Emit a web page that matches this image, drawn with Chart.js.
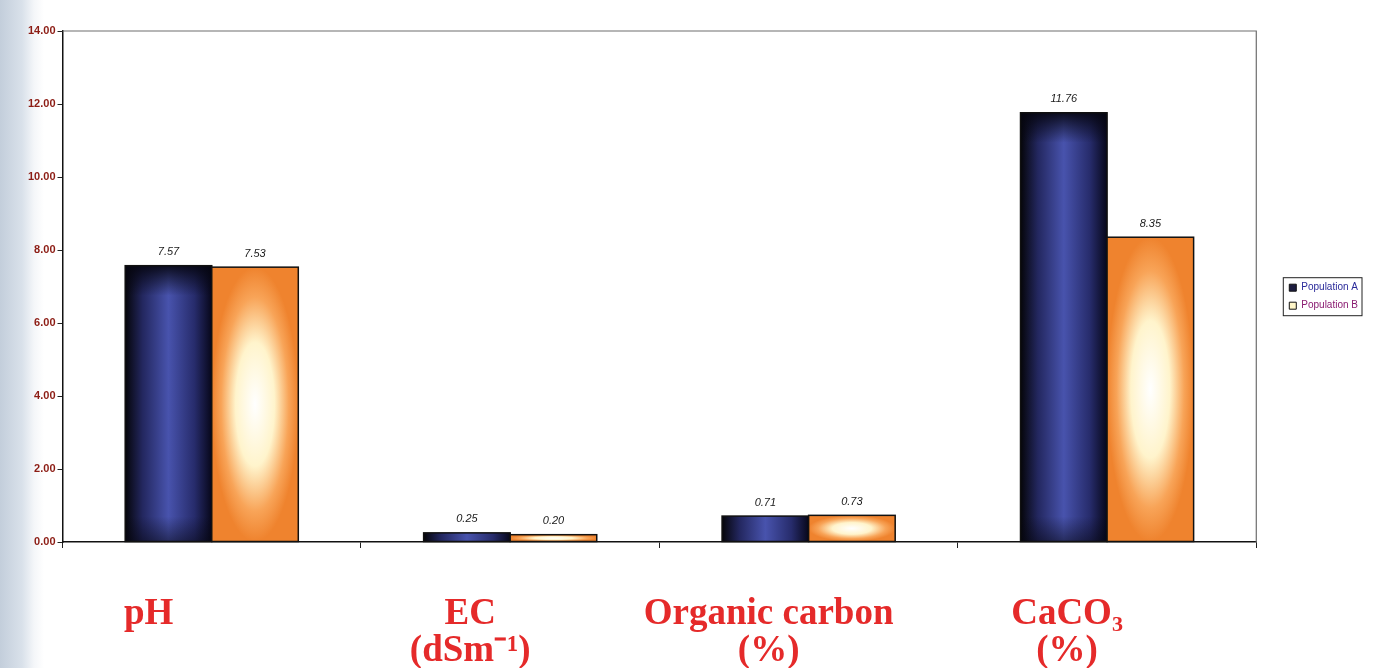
<!DOCTYPE html>
<html>
<head>
<meta charset="utf-8">
<script src="https://cdn.jsdelivr.net/npm/chart.js@4.4.1/dist/chart.umd.min.js"></script>
<style>
  html, body { margin: 0; padding: 0; }
  body {
    width: 1390px; height: 668px; overflow: hidden;
    background: linear-gradient(to right, #c3cedb 0px, #d9e1ea 22px, #f4f6f9 34px, #ffffff 44px);
  }
  #wrap { position: absolute; left: 0; top: 0; width: 1390px; height: 668px; }
</style>
</head>
<body>
<div id="wrap"><canvas id="soil" width="1390" height="668"></canvas></div>
<script>
const categories = ['pH     ', ['EC', '(dSm⁻¹)'], ['Organic carbon', '(%)'], ['CaCO₃', '(%)']];
const populationA = [7.57, 0.25, 0.71, 11.76];
const populationB = [7.53, 0.20, 0.73, 8.35];
const yTicks = [0, 2, 4, 6, 8, 10, 12, 14];

// fills each bar with the shaded look of the scanned figure
const barShading = {
    id: 'barShading',
    afterDatasetsDraw(chart) {
        const ctx = chart.ctx;
        chart.data.datasets.forEach((ds, i) => {
            const meta = chart.getDatasetMeta(i);
            meta.data.forEach(bar => {
                const p = bar.getProps(['x', 'y', 'base', 'width'], true);
                const left = p.x - p.width / 2;
                const top = Math.min(p.y, p.base);
                const h = Math.abs(p.base - p.y);
                ctx.save();
                if (i === 0) {
                    const g = ctx.createLinearGradient(left, 0, left + p.width, 0);
                    g.addColorStop(0, '#050509');
                    g.addColorStop(0.2, '#23275f');
                    g.addColorStop(0.5, '#4853ad');
                    g.addColorStop(0.8, '#272c6c');
                    g.addColorStop(1, '#07071a');
                    ctx.fillStyle = g;
                    ctx.fillRect(left, top, p.width, h);
                    const v = ctx.createLinearGradient(0, top, 0, top + h);
                    v.addColorStop(0, 'rgba(5,5,15,0.9)');
                    v.addColorStop(Math.min(1, 30 / Math.max(h, 1)), 'rgba(5,5,15,0)');
                    v.addColorStop(Math.max(0, 1 - 25 / Math.max(h, 1)), 'rgba(5,5,15,0)');
                    v.addColorStop(1, 'rgba(5,5,15,0.5)');
                    ctx.fillStyle = v;
                    ctx.fillRect(left, top, p.width, h);
                } else {
                    ctx.fillStyle = '#f0842e';
                    ctx.fillRect(left, top, p.width, h);
                    ctx.save();
                    ctx.translate(left + p.width / 2, top + h / 2);
                    ctx.scale(p.width / 2, h / 2);
                    const r = ctx.createRadialGradient(0, 0, 0, 0, 0, 1);
                    r.addColorStop(0, '#ffffff');
                    r.addColorStop(0.45, '#fff4cc');
                    r.addColorStop(0.78, '#f8a458');
                    r.addColorStop(1, '#ef832e');
                    ctx.fillStyle = r;
                    ctx.fillRect(-1, -1, 2, 2);
                    ctx.restore();
                }
                ctx.strokeStyle = '#111';
                ctx.lineWidth = 1.5;
                ctx.strokeRect(left, top, p.width, h);
                ctx.restore();
            });
        });
    }
};

// value labels above the bars
const valueLabels = {
    id: 'valueLabels',
    afterDatasetsDraw(chart) {
        const ctx = chart.ctx;
        ctx.save();
        ctx.font = 'italic 11px "Liberation Sans", Arial, sans-serif';
        ctx.fillStyle = '#1a1a1a';
        ctx.textAlign = 'center';
        ctx.textBaseline = 'bottom';
        chart.data.datasets.forEach((ds, i) => {
            chart.getDatasetMeta(i).data.forEach((bar, j) => {
                const p = bar.getProps(['x', 'y'], true);
                ctx.fillText(ds.data[j].toFixed(2), p.x, p.y - 8);
            });
        });
        ctx.restore();
    }
};

// top and right frame of the plot and a box around the legend
const frame = {
    id: 'frame',
    beforeDatasetsDraw(chart) {
        const a = chart.chartArea;
        const ctx = chart.ctx;
        ctx.save();
        ctx.strokeStyle = '#6e6e6e';
        ctx.lineWidth = 1.2;
        ctx.beginPath();
        ctx.moveTo(a.left, a.top);
        ctx.lineTo(a.right, a.top);
        ctx.lineTo(a.right, a.bottom);
        ctx.stroke();
        ctx.restore();
    },
    afterDraw(chart) {
        const lg = chart.legend;
        if (!lg || !lg.legendHitBoxes.length) return;
        const boxes = lg.legendHitBoxes;
        const x0 = Math.min(...boxes.map(b => b.left)) - 6;
        const x1 = Math.max(...boxes.map(b => b.left + b.width)) + 4;
        const y0 = boxes[0].top - 5;
        const y1 = boxes[boxes.length - 1].top + boxes[boxes.length - 1].height + 5;
        const ctx = chart.ctx;
        ctx.save();
        ctx.strokeStyle = '#222';
        ctx.lineWidth = 1;
        ctx.strokeRect(x0, y0, x1 - x0, y1 - y0);
        ctx.restore();
    }
};

const ctx = document.getElementById('soil').getContext('2d');
new Chart(ctx, {
    type: 'bar',
    data: {
        labels: categories,
        datasets: [
            { label: 'Population A', data: populationA, backgroundColor: '#2b3280', borderWidth: 0, barPercentage: 1, categoryPercentage: 0.58 },
            { label: 'Population B', data: populationB, backgroundColor: '#f08a34', borderWidth: 0, barPercentage: 1, categoryPercentage: 0.58 }
        ]
    },
    options: {
        responsive: false,
        animation: false,
        layout: { padding: { left: 26, top: 31, right: 22, bottom: 0 } },
        scales: {
            x: {
                afterFit(scale) { scale.height = 126; },
                grid: { display: true, drawOnChartArea: false, drawTicks: true, tickLength: 6, color: '#222' },
                border: { display: true, color: '#111', width: 1.5 },
                ticks: {
                    color: '#e52a2a',
                    font: { family: '"Liberation Serif", "Times New Roman", serif', size: 37, weight: 'bold', lineHeight: 1.0 },
                    padding: 48,
                    labelOffset: -40,
                    maxRotation: 0,
                    autoSkip: false
                }
            },
            y: {
                min: 0,
                max: 14,
                afterBuildTicks(axis) { axis.ticks = yTicks.map(v => ({ value: v })); },
                grid: { display: true, drawOnChartArea: false, drawTicks: true, tickLength: 5, color: '#222' },
                border: { display: true, color: '#111', width: 1.5 },
                ticks: {
                    color: '#8c1c14',
                    font: { family: '"Liberation Sans", Arial, sans-serif', size: 11, weight: 'bold' },
                    padding: 2,
                    callback: v => Number(v).toFixed(2)
                }
            },
            // empty spacer between the plot and the legend
            gap: {
                type: 'linear',
                position: 'right',
                display: true,
                afterFit(scale) { scale.width = 25; },
                grid: { display: false },
                border: { display: false },
                ticks: { display: false }
            }
        },
        plugins: {
            legend: {
                position: 'right',
                align: 'center',
                fullSize: false,
                title: { display: true, text: ' ', padding: 0, font: { size: 17 } },
                labels: {
                    boxWidth: 7,
                    boxHeight: 7,
                    padding: 8,
                    font: { family: '"Liberation Sans", Arial, sans-serif', size: 10 },
                    generateLabels(chart) {
                        return [
                            { text: 'Population A', fillStyle: '#1d1d40', strokeStyle: '#111', lineWidth: 1, fontColor: '#2a2a9a', datasetIndex: 0 },
                            { text: 'Population B', fillStyle: '#fff6c8', strokeStyle: '#111', lineWidth: 1, fontColor: '#8a1a70', datasetIndex: 1 }
                        ];
                    }
                }
            },
            tooltip: { enabled: false }
        }
    },
    plugins: [barShading, valueLabels, frame]
});
</script>
</body>
</html>
